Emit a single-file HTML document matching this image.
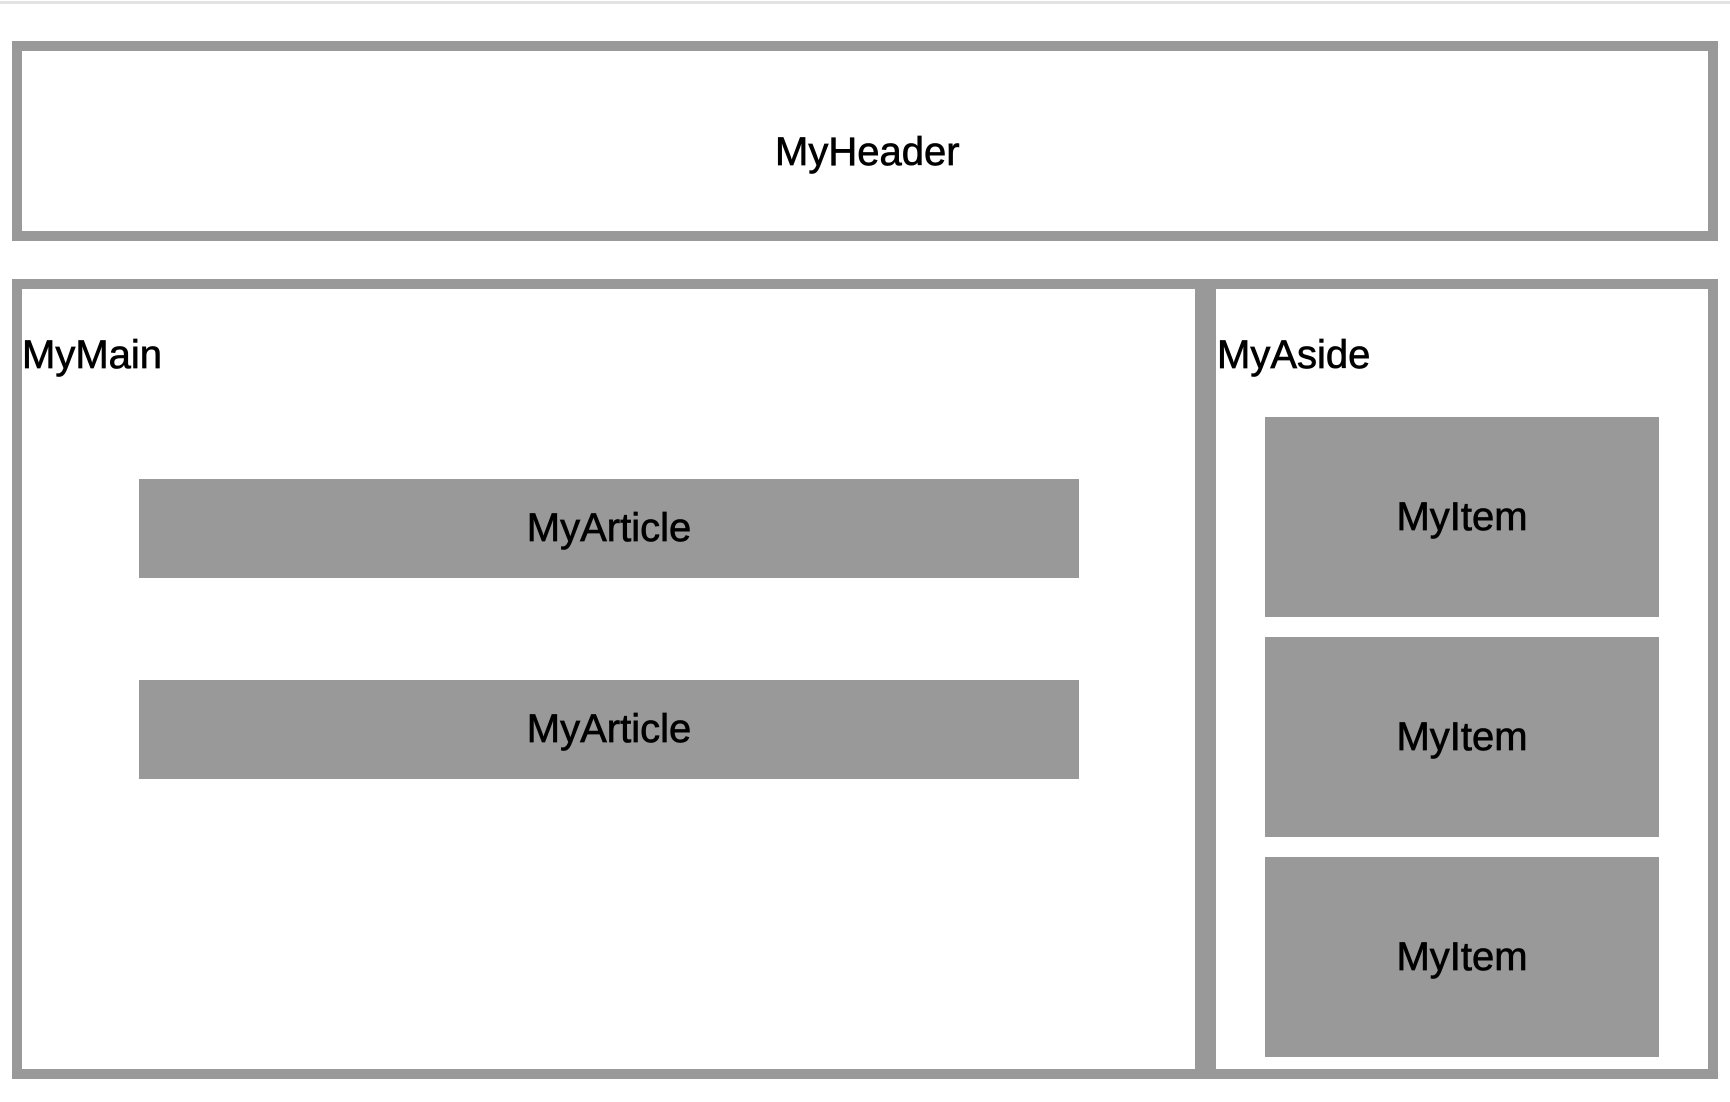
<!DOCTYPE html>
<html><head><style>
html,body{margin:0;padding:0;background:#fff;width:1730px;height:1102px;overflow:hidden;position:relative;font-family:"Liberation Sans",sans-serif;color:#000}
.b{position:absolute;box-sizing:border-box;border:10px solid #999}
.g{position:absolute;background:#999;display:flex;align-items:center;justify-content:center;font-size:40px;-webkit-text-stroke:0.7px #000}
.t{position:absolute;font-size:40px;line-height:1;white-space:nowrap;-webkit-text-stroke:0.7px #000}
</style></head><body>
<div style="position:absolute;left:0;top:1px;width:1730px;height:3px;background:#e3e3e3"></div>
<div class="b" style="left:12px;top:41px;width:1706px;height:200px"></div>
<div class="t" style="left:775px;top:132px">MyHeader</div>
<div class="b" style="left:12px;top:279px;width:1706px;height:800px"></div>
<div style="position:absolute;left:1195px;top:279px;width:21px;height:800px;background:#999"></div>
<div class="t" style="left:22px;top:335px">MyMain</div>
<div class="t" style="left:1217px;top:335px">MyAside</div>
<div class="g" style="left:139px;top:479px;width:940px;height:99px">MyArticle</div>
<div class="g" style="left:139px;top:680px;width:940px;height:99px">MyArticle</div>
<div class="g" style="left:1265px;top:417px;width:394px;height:200px">MyItem</div>
<div class="g" style="left:1265px;top:637px;width:394px;height:200px">MyItem</div>
<div class="g" style="left:1265px;top:857px;width:394px;height:200px">MyItem</div>
</body></html>
